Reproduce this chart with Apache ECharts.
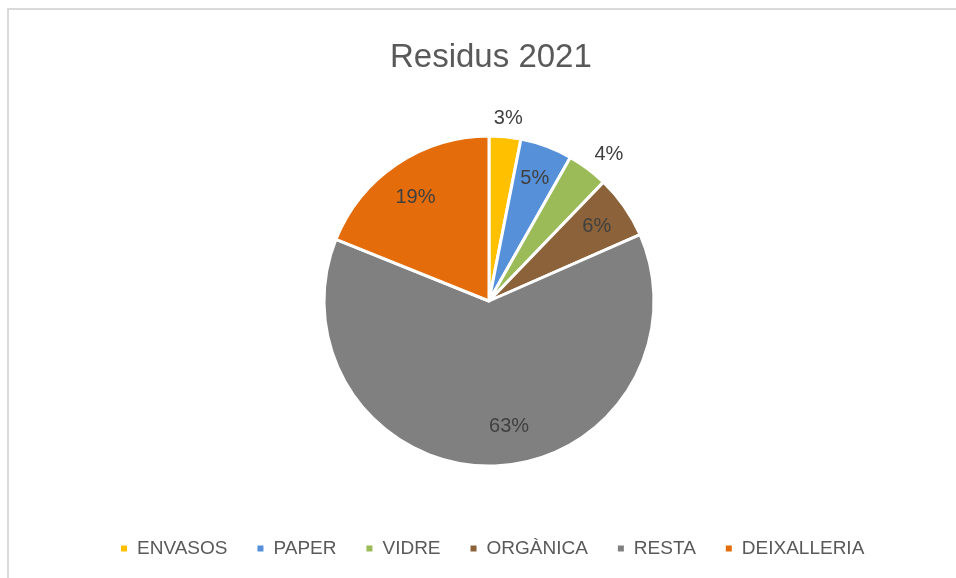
<!DOCTYPE html>
<html>
<head>
<meta charset="utf-8">
<script src="https://cdn.jsdelivr.net/npm/echarts@6/dist/echarts.min.js"></script>
<style>
html, body { margin: 0; padding: 0; background: #fff; }
#main { width: 956px; height: 578px; }
</style>
</head>
<body>
<div id="main"></div>
<script>
var categories = ['ENVASOS', 'PAPER', 'VIDRE', 'ORGÀNICA', 'RESTA', 'DEIXALLERIA'];
var values = [3.1, 5.1, 4.0, 6.2, 62.7, 18.9];
var colors = ['#FFC000', '#5590D9', '#9BBB59', '#8B6239', '#808080', '#E46C0A'];
// small slices get their label outside
var outsideLabel = [true, false, true, false, false, false];
var labelDist = [-13, 0, -4, 0, 0, 0];
var labelShift = [null, [0, 1], null, [0, 1], [18, -6], [0, 5]];

var fontName = 'Liberation Sans';

function buildData(forLabels) {
	var arr = [];
	for (var i = 0; i < categories.length; i++) {
		var item = {
			name: categories[i],
			value: values[i],
			itemStyle: { color: forLabels ? 'rgba(0,0,0,0)' : colors[i] }
		};
		if (forLabels) {
			item.label = outsideLabel[i] ? {
				position: 'outside',
				distanceToLabelLine: labelDist[i]
			} : {
				position: 'inside'
			};
			if (labelShift[i]) {
				item.label.offset = labelShift[i];
			}
		}
		arr.push(item);
	}
	return arr;
}

var dom = document.getElementById('main');
var myChart = echarts.init(dom, null, { renderer: 'canvas' });

var option = {
	animation: false,
	color: colors,
	title: {
		text: 'Residus 2021',
		left: 385,
		top: 36,
		textStyle: {
			fontFamily: fontName,
			fontSize: 33,
			fontWeight: 'normal',
			color: '#595959'
		}
	},
	legend: {
		left: 114,
		top: 534,
		itemWidth: 8,
		itemHeight: 8,
		itemGap: 28,
		icon: 'rect',
		data: categories,
		textStyle: {
			fontFamily: fontName,
			fontSize: 19,
			color: '#595959',
			padding: [0, 0, 0, 4]
		}
	},
	graphic: [{
		type: 'rect',
		shape: { x: 8, y: 9, width: 970, height: 600 },
		style: { fill: 'none', stroke: '#d9d9d9', lineWidth: 2 },
		silent: true
	}],
	series: [{
		name: 'Residus 2021',
		type: 'pie',
		center: [489, 301],
		radius: [0, 165],
		startAngle: 90,
		clockwise: true,
		label: { show: false },
		labelLine: { show: false },
		itemStyle: { borderColor: '#fff', borderWidth: 3 },
		emphasis: { disabled: true },
		data: buildData(false)
	}, {
		name: 'labels',
		type: 'pie',
		center: [489, 301],
		radius: [92, 165],
		startAngle: 90,
		clockwise: true,
		silent: true,
		label: {
			show: true,
			formatter: function (p) { return Math.round(p.value) + '%'; },
			fontFamily: fontName,
			fontSize: 20,
			color: '#404040'
		},
		labelLine: { show: false, length: 18, length2: 0 },
		itemStyle: { borderWidth: 0 },
		emphasis: { disabled: true },
		data: buildData(true)
	}]
};

myChart.setOption(option);
window.addEventListener('resize', function () {
	myChart.resize();
});
</script>
</body>
</html>
